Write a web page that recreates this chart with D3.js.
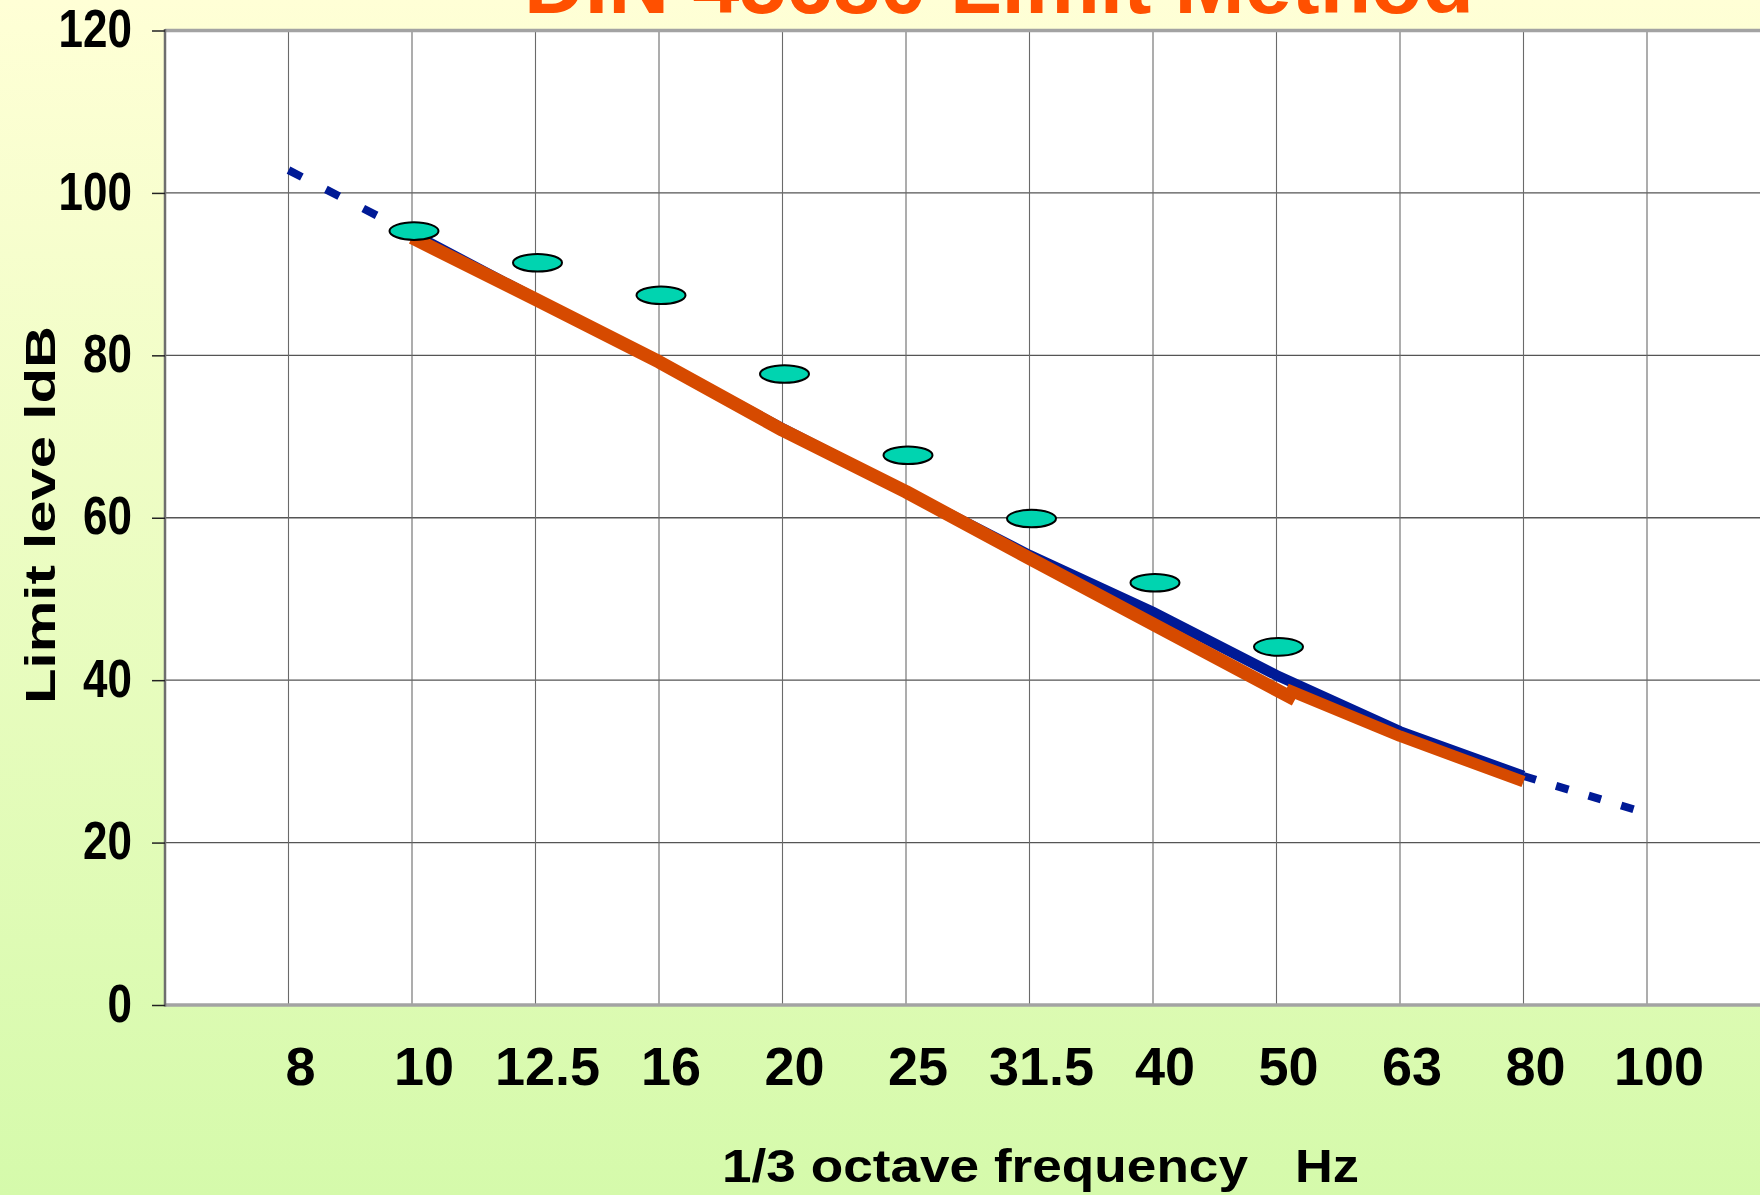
<!DOCTYPE html>
<html>
<head>
<meta charset="utf-8">
<script src="https://cdn.jsdelivr.net/npm/d3@7/dist/d3.min.js"></script>
<style>
  html, body { margin: 0; padding: 0; background: #ffffd6; }
  svg { display: block; }
  text { font-family: "Liberation Sans", Arial, sans-serif; font-weight: bold; fill: #000; }
</style>
</head>
<body>
<svg id="chart" width="1760" height="1195"></svg>
<script>
  // 1/3 octave bands (x axis categories)
  var bands = ["8", "10", "12.5", "16", "20", "25", "31.5", "40", "50", "63", "80", "100"];
  var yTicks = [0, 20, 40, 60, 80, 100, 120];

  // hearing threshold curve (blue), one value per band
  var thresholdDb = [102.8, 95, 87, 79.2, 71, 63.2, 55.4, 48.4, 40.6, 33.7, 28.2, 23.6];

  // limit values (ellipses), bands 10 .. 50 Hz
  var limitBands = ["10", "12.5", "16", "20", "25", "31.5", "40", "50"];
  var limitDb = [95.3, 91.4, 87.4, 77.7, 67.7, 59.9, 52.0, 44.1];

  // hand drawn orange line, two pieces: [band index, dB]
  var orangeA = [[1, 94.5], [2, 86.9], [3, 79.2], [4, 70.8], [5, 63.2], [6, 55.0], [7, 46.9], [8.15, 37.6]];
  var orangeB = [[8.08, 38.9], [9, 33.1], [10, 27.5]];

  var title = "DIN 45680 Limit Method";
  var yTitle = "Limit leve ldB";
  var xTitle = "1/3 octave frequency";
  var xUnit = "Hz";

  (function () {
      var svg = d3.select("svg#chart"),
          width = +svg.attr("width"),
          height = +svg.attr("height");

      var plotL = 165, plotT = 30.5, plotB = 1005, step = 123.5;

      var x = d3.scaleLinear().domain([-1, bands.length]).
          range([plotL, plotL + step * (bands.length + 1)]);
      var y = d3.scaleLinear().domain([0, 120]).range([plotB, plotT]);

      // background gradient
      var grad = svg.append("defs").append("linearGradient").
          attr("id", "bg").attr("x1", 0).attr("y1", 0).attr("x2", 0).attr("y2", 1);
      grad.append("stop").attr("offset", "0%").attr("stop-color", "#ffffd6");
      grad.append("stop").attr("offset", "100%").attr("stop-color", "#d5faab");
      svg.append("rect").attr("width", width).attr("height", height).attr("fill", "url(#bg)");

      // plot area
      svg.append("rect").
          attr("x", plotL).attr("y", plotT).
          attr("width", x.range()[1] - plotL).attr("height", plotB - plotT).
          attr("fill", "#ffffff");

      // grid
      svg.append("g").selectAll("line").data(yTicks.filter(function (t) { return t > 0 && t < 120; })).
          join("line").
          attr("x1", plotL).attr("x2", width).
          attr("y1", function (d) { return y(d); }).attr("y2", function (d) { return y(d); }).
          attr("stroke", "#555").attr("stroke-width", 1.3);
      svg.append("g").selectAll("line").data(bands).
          join("line").
          attr("x1", function (d, i) { return x(i); }).attr("x2", function (d, i) { return x(i); }).
          attr("y1", plotT).attr("y2", plotB).
          attr("stroke", "#6a6a6a").attr("stroke-width", 1.1);

      // frame
      svg.append("line").attr("x1", plotL).attr("x2", width).attr("y1", plotT).attr("y2", plotT).
          attr("stroke", "#a3a3a3").attr("stroke-width", 3.5);
      svg.append("line").attr("x1", plotL).attr("x2", width).attr("y1", plotB).attr("y2", plotB).
          attr("stroke", "#a3a3a3").attr("stroke-width", 3.5);
      svg.append("line").attr("x1", plotL).attr("x2", plotL).attr("y1", plotT - 1.5).attr("y2", plotB + 1.5).
          attr("stroke", "#6e6e6e").attr("stroke-width", 2.5);

      // y axis
      var yAxis = svg.append("g").attr("transform", "translate(" + plotL + ",0)").
          call(d3.axisLeft(y).tickValues(yTicks).tickSize(13).tickPadding(20).tickSizeOuter(0));
      yAxis.select(".domain").remove();
      yAxis.selectAll(".tick line").attr("stroke", "#222").attr("stroke-width", 1.5);
      yAxis.selectAll(".tick text").
          attr("font-size", 44).attr("font-family", null).
          attr("transform", "scale(1,1.22)").attr("dy", "0.3em").
          attr("y", 0);

      // x labels
      svg.append("g").selectAll("text").data(bands).
          join("text").
          attr("x", function (d, i) { return x(i) + 12; }).attr("y", 1085).
          attr("text-anchor", "middle").attr("font-size", 54).
          text(function (d) { return d; });

      var line = d3.line().x(function (d) { return x(d[0]); }).y(function (d) { return y(d[1]); });
      var blue = thresholdDb.map(function (v, i) { return [i, v]; });

      // blue threshold curve: dashed outside 10..80 Hz
      svg.append("path").datum(blue.slice(1, 11)).attr("d", line).
          attr("fill", "none").attr("stroke", "#001a96").attr("stroke-width", 10.5);
      svg.append("path").datum(blue.slice(0, 2)).attr("d", line).
          attr("fill", "none").attr("stroke", "#001a96").attr("stroke-width", 8).
          attr("stroke-dasharray", "15 27");
      svg.append("path").datum(blue.slice(10, 12)).attr("d", line).
          attr("fill", "none").attr("stroke", "#001a96").attr("stroke-width", 8).
          attr("stroke-dasharray", "13 21");

      // orange line
      [[orangeA, 13.5], [orangeB, 11.5]].forEach(function (p) {
          svg.append("path").datum(p[0]).attr("d", line).
              attr("fill", "none").attr("stroke", "#d64a00").attr("stroke-width", p[1]).
              attr("stroke-linejoin", "round");
      });

      // limit ellipses
      svg.append("g").selectAll("ellipse").data(limitDb).
          join("ellipse").
          attr("cx", function (d, i) { return x(bands.indexOf(limitBands[i])) + 2; }).
          attr("cy", function (d) { return y(d); }).
          attr("rx", 24.5).attr("ry", 8.8).
          attr("fill", "#00d4b0").attr("stroke", "#000").attr("stroke-width", 2);

      // titles
      svg.append("text").attr("x", 999).attr("y", 12.7).attr("text-anchor", "middle").
          attr("font-size", 84).attr("textLength", 950).attr("lengthAdjust", "spacingAndGlyphs").
          style("fill", "#ff5000").text(title);

      svg.append("text").
          attr("transform", "translate(55,515) rotate(-90)").
          attr("text-anchor", "middle").attr("font-size", 43).
          attr("textLength", 378).attr("lengthAdjust", "spacingAndGlyphs").
          text(yTitle);

      svg.append("text").attr("x", 722).attr("y", 1182).attr("font-size", 47).
          attr("textLength", 526).attr("lengthAdjust", "spacingAndGlyphs").text(xTitle);
      svg.append("text").attr("x", 1295).attr("y", 1182).attr("font-size", 47).
          attr("textLength", 64).attr("lengthAdjust", "spacingAndGlyphs").text(xUnit);
  })();
</script>
</body>
</html>
